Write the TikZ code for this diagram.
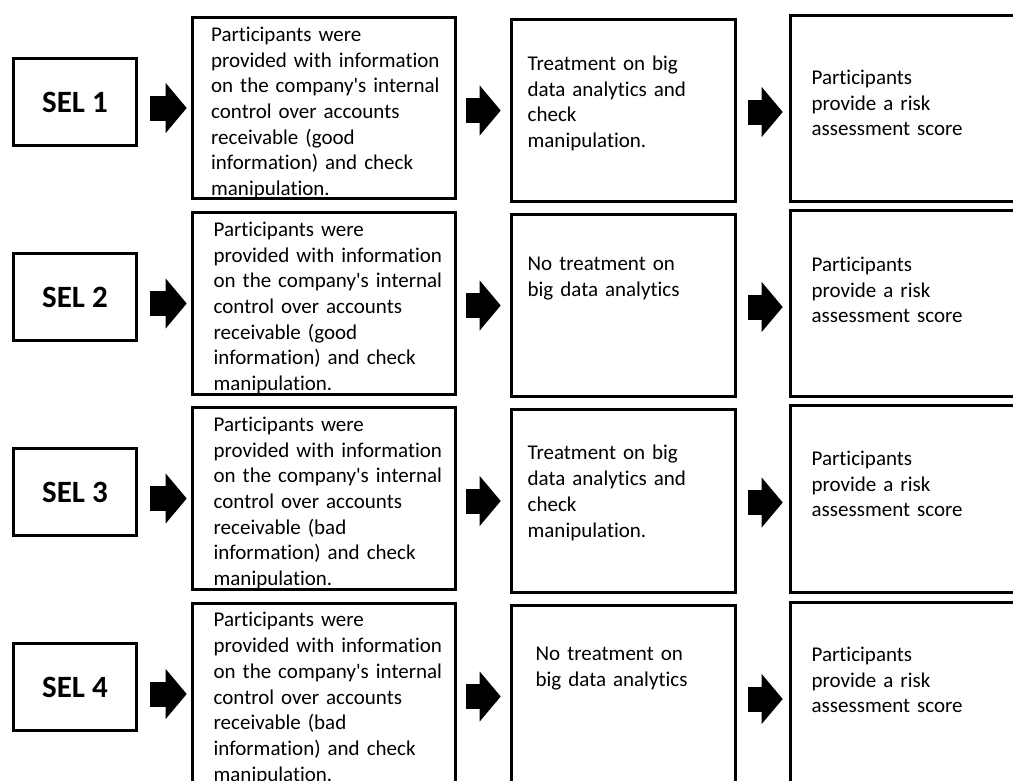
\documentclass[tikz,border=0pt]{standalone}
\usepackage{fontspec}
\setmainfont{Carlito}[Ligatures={NoCommon}]
\usepackage{tikz}
\usetikzlibrary{arrows.meta, positioning, calc}

\begin{document}
\begin{tikzpicture}[
  x=1pt, y=-1pt,
  frame/.style={rectangle, draw, line width=2.6pt, inner sep=0pt},
  sel/.style={frame, minimum width=123.5pt, minimum height=87.5pt,
              font=\fontsize{31}{37}\selectfont\bfseries},
  info/.style={frame, minimum width=263.5pt, minimum height=181.5pt},
  treat/.style={frame, minimum width=224.5pt, minimum height=182.5pt},
  score/.style={frame, minimum width=260pt, minimum height=186.5pt},
  txt/.style={anchor=base west, inner sep=0pt, text width=300pt, align=left,
              font=\fontsize{21}{25.7}\selectfont},
  blockarrow/.style={line width=25pt, -{Triangle[length=21pt, width=50pt, line width=0pt]}},
  arrowA/.style={blockarrow, shorten <=12.25pt, shorten >=4.25pt},
  arrowB/.style={blockarrow, shorten <=9.25pt, shorten >=9.25pt},
  arrowC/.style={blockarrow, shorten <=11.25pt, shorten >=6.25pt,
                 transform canvas={yshift=-3.5pt}}
]
\useasboundingbox (0,0) rectangle (1013,780);
\clip (0,0) rectangle (1013,780);

% Kelompok SEL
\node[sel] (s1) at (75,102) {SEL 1};
\node[sel] (s2) at (75,297) {SEL 2};
\node[sel] (s3) at (75,492) {SEL 3};
\node[sel] (s4) at (75,687) {SEL 4};

% Informasi pengendalian internal
\node[info] (p1) at (324,108)   {};
\node[info] (p2) at (324,303.5) {};
\node[info] (p3) at (324,498.5) {};
\node[info] (p4) at (324,694)   {};

% Perlakuan big data analytics
\node[treat] (t1) at (623.5,110.5) {};
\node[treat] (t2) at (623.5,305.5) {};
\node[treat] (t3) at (623.5,501)   {};
\node[treat] (t4) at (623.5,696.5) {};

% Penilaian risiko
\node[score] (r1) at (920.25,108.5) {};
\node[score] (r2) at (920.25,303.5) {};
\node[score] (r3) at (920.25,499)   {};
\node[score] (r4) at (920.25,695.5) {};

% Teks dalam kotak
\node[txt] (p1txt) at ([xshift=20pt,yshift=-25.5pt]p1.north west)
  {Participants were\\provided with information\\on the company\textquotesingle s internal\\control over accounts\\receivable (good\\information) and check\\manipulation.};
\node[txt] (p2txt) at ([xshift=22.5pt,yshift=-25pt]p2.north west)
  {Participants were\\provided with information\\on the company\textquotesingle s internal\\control over accounts\\receivable (good\\information) and check\\manipulation.};
\node[txt] (p3txt) at ([xshift=22.5pt,yshift=-25pt]p3.north west)
  {Participants were\\provided with information\\on the company\textquotesingle s internal\\control over accounts\\receivable (bad\\information) and check\\manipulation.};
\node[txt] (p4txt) at ([xshift=22.5pt,yshift=-25pt]p4.north west)
  {Participants were\\provided with information\\on the company\textquotesingle s internal\\control over accounts\\receivable (bad\\information) and check\\manipulation.};

\node[txt] (t1txt) at ([xshift=17.5pt,yshift=-52.5pt]t1.north west)
  {Treatment on big\\data analytics and\\check\\manipulation.};
\node[txt] (t2txt) at ([xshift=17.5pt,yshift=-57.5pt]t2.north west)
  {No treatment on\\big data analytics};
\node[txt] (t3txt) at ([xshift=17.5pt,yshift=-51.5pt]t3.north west)
  {Treatment on big\\data analytics and\\check\\manipulation.};
\node[txt] (t4txt) at ([xshift=25.5pt,yshift=-56.5pt]t4.north west)
  {No treatment on\\big data analytics};

\node[txt] (r1txt) at ([xshift=22.5pt,yshift=-70.5pt]r1.north west)
  {Participants\\provide a risk\\assessment score};
\node[txt] (r2txt) at ([xshift=22.5pt,yshift=-62.5pt]r2.north west)
  {Participants\\provide a risk\\assessment score};
\node[txt] (r3txt) at ([xshift=22.5pt,yshift=-61pt]r3.north west)
  {Participants\\provide a risk\\assessment score};
\node[txt] (r4txt) at ([xshift=22.5pt,yshift=-60.5pt]r4.north west)
  {Participants\\provide a risk\\assessment score};

% Panah SEL -> informasi
\draw[arrowA] (s1.east |- p1.west) -- (p1.west);
\draw[arrowA] (s2.east |- p2.west) -- (p2.west);
\draw[arrowA] (s3.east |- p3.west) -- (p3.west);
\draw[arrowA] (s4.east |- p4.west) -- (p4.west);

% Panah informasi -> perlakuan
\draw[arrowB] (p1.east |- t1.west) -- (t1.west);
\draw[arrowB] (p2.east |- t2.west) -- (t2.west);
\draw[arrowB] (p3.east |- t3.west) -- (t3.west);
\draw[arrowB] (p4.east |- t4.west) -- (t4.west);

% Panah perlakuan -> penilaian
\draw[arrowC] (t1.east |- r1.west) -- (r1.west);
\draw[arrowC] (t2.east |- r2.west) -- (r2.west);
\draw[arrowC] (t3.east |- r3.west) -- (r3.west);
\draw[arrowC] (t4.east |- r4.west) -- (r4.west);

\end{tikzpicture}
\end{document}
